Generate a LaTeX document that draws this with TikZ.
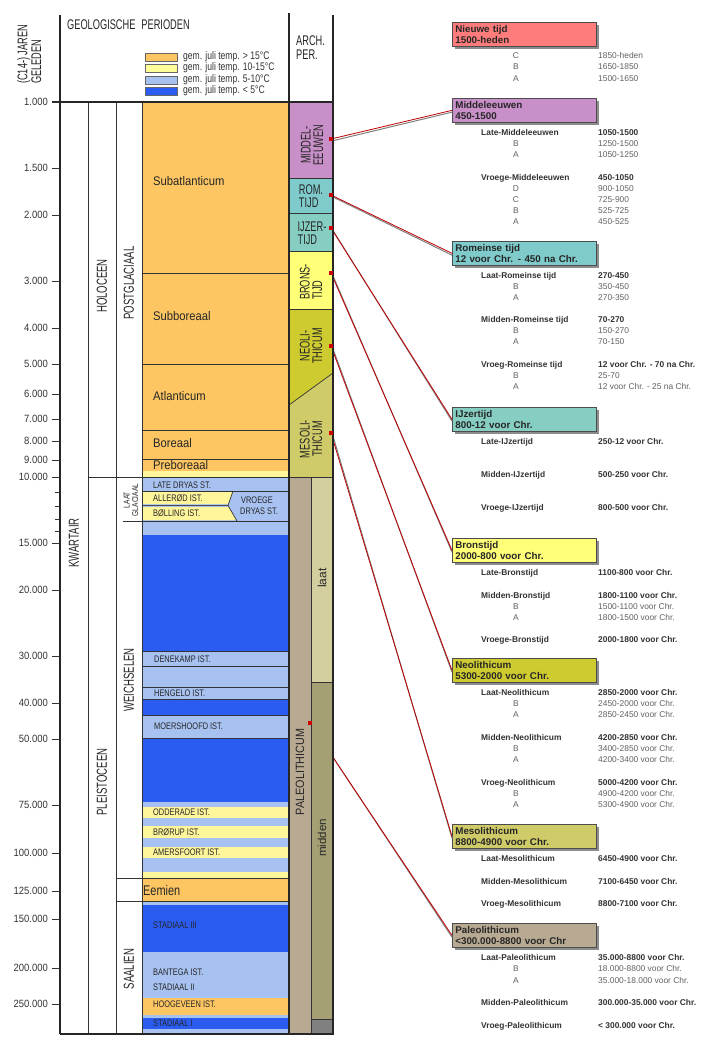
\documentclass[tikz,border=0pt]{standalone}
\usepackage{fontspec}
\setmainfont{Liberation Sans}
\newfontfamily\cnarrow[FakeStretch=0.66]{Liberation Sans}
\newfontfamily\cmid[FakeStretch=0.78]{Liberation Sans}
\newfontfamily\csub[FakeStretch=0.9]{Liberation Sans}
\usetikzlibrary{shadows}
\definecolor{orng}{HTML}{FDC663}
\definecolor{ylw}{HTML}{FFF59B}
\definecolor{lblue}{HTML}{A7C2F0}
\definecolor{dblue}{HTML}{2B5CF2}
\definecolor{mpurp}{HTML}{C88FC8}
\definecolor{teala}{HTML}{7FCACA}
\definecolor{tealb}{HTML}{86CEC2}
\definecolor{brons}{HTML}{FFFF78}
\definecolor{neo}{HTML}{CDCB30}
\definecolor{meso}{HTML}{CFCB68}
\definecolor{paleo}{HTML}{B8AA92}
\definecolor{laatc}{HTML}{D3CF9F}
\definecolor{middenc}{HTML}{A4A074}
\definecolor{nieuw}{HTML}{FF7C7C}
\definecolor{legyl}{HTML}{FFFF99}
\begin{document}
\begin{tikzpicture}[x=1pt,y=-1pt,
 fr/.style={draw=black!85,line width=1.3pt},
 sep/.style={draw=black!80,line width=0.7pt},
 ticklab/.style={anchor=east,inner sep=0pt,font=\csub\fontsize{10.5}{12}\selectfont,text=black!80},
 vlab/.style={rotate=90,inner sep=0pt,font=\cnarrow\fontsize{14.5}{14}\selectfont,text=black!85},
 perlab/.style={anchor=west,inner sep=0pt,text height=9pt,text depth=2pt,font=\csub\fontsize{12.5}{14}\selectfont,text=black!85},
 stlab/.style={anchor=west,inner sep=0pt,text height=7pt,text depth=0pt,font=\cmid\fontsize{9.5}{11}\selectfont,text=black!85},
 archlab/.style={inner sep=0pt,font=\cnarrow\fontsize{14}{12.5}\selectfont,text=black!85},
 legtxt/.style={anchor=west,inner sep=0pt,font=\cmid\fontsize{11}{12}\selectfont,text=black!80},
 legbox/.style={draw=black!60,line width=0.6pt},
 abox/.style={draw=black!70,line width=0.7pt,anchor=north west,minimum width=144pt,minimum height=24pt,text width=138pt,inner xsep=3pt,inner ysep=1pt,align=left,font=\fontsize{9.8}{11.5}\selectfont\bfseries,text=black!85,drop shadow={shadow xshift=2.5pt,shadow yshift=-2.5pt,fill=black!45,opacity=1}},
 rn/.style={anchor=west,inner sep=0pt,text height=6pt,text depth=1.7pt,font=\fontsize{8.4}{10}\selectfont\bfseries,text=black!80},
 rs/.style={anchor=west,inner sep=0pt,text height=6pt,text depth=1.7pt,font=\fontsize{8.4}{10}\selectfont,text=black!62},
 rl/.style={inner sep=0pt,text height=6pt,text depth=1.7pt,font=\fontsize{8.4}{10}\selectfont,text=black!62},
 conn/.style={draw=red!75!black,line width=0.8pt},
 connsh/.style={draw=black!50,line width=1pt},
 rdot/.style={fill=red!80!black,inner sep=0pt,minimum size=3.2pt}
]
\useasboundingbox[fill=white] (0,0) rectangle (710,1050);

% ---------- colour column ----------
\fill[orng] (142,102) rectangle (288,471);
\fill[ylw] (142,471) rectangle (288,477);
\fill[lblue] (142,477) rectangle (288,535);
\fill[ylw] (142,492) -- (233,492) -- (228,504) -- (142,504) -- cycle;
\fill[ylw] (142,507) -- (229,507) -- (236,520) -- (142,520) -- cycle;
\fill[dblue] (142,535) rectangle (288,651);
\fill[lblue] (142,651) rectangle (288,699);
\fill[dblue] (142,699) rectangle (288,715);
\fill[lblue] (142,715) rectangle (288,738);
\fill[dblue] (142,738) rectangle (288,802);
\fill[lblue] (142,802) rectangle (288,878);
\fill[ylw] (142,807) rectangle (288,818);
\fill[ylw] (142,826) rectangle (288,838);
\fill[ylw] (142,847) rectangle (288,858);
\fill[ylw] (142,872) rectangle (288,878);
\fill[orng] (142,878) rectangle (288,901);
\fill[lblue] (142,901) rectangle (288,905);
\fill[dblue] (142,905) rectangle (288,952);
\fill[lblue] (142,952) rectangle (288,998);
\fill[orng] (142,998) rectangle (288,1015);
\fill[lblue] (142,1015) rectangle (288,1018);
\fill[dblue] (142,1018) rectangle (288,1029);
\fill[lblue] (142,1029) rectangle (288,1034);
\foreach \yy in {273,364,430,459,491,521,651,666,687,699,715,738}
  \draw[sep] (142,\yy) -- (289,\yy);
\draw[sep] (233,491) -- (228,505.5) -- (237,521);
\draw[draw=black!70,line width=1.4pt] (142,505.5) -- (228,505.5);

% ---------- right-hand boxes ----------
\node[abox,fill=nieuw] (bNieuw) at (452,22) {Nieuwe tijd\\1500-heden};
\node[abox,fill=mpurp] (bMid) at (452,98) {Middeleeuwen\\450-1500};
\node[abox,fill=teala] (bRom) at (452,241) {Romeinse tijd\\12 voor Chr. - 450 na Chr.};
\node[abox,fill=tealb] (bIJz) at (452,407) {IJzertijd\\800-12 voor Chr.};
\node[abox,fill=brons] (bBro) at (452,538) {Bronstijd\\2000-800 voor Chr.};
\node[abox,fill=neo] (bNeo) at (452,658) {Neolithicum\\5300-2000 voor Chr.};
\node[abox,fill=meso] (bMes) at (452,824) {Mesolithicum\\8800-4900 voor Chr.};
\node[abox,fill=paleo] (bPal) at (452,923) {Paleolithicum\\<300.000-8800 voor Chr};

% ---------- connectors ----------
\coordinate (dMid) at (331,139);
\coordinate (dRom) at (331,195);
\coordinate (dIJz) at (331,228);
\coordinate (dBro) at (331,273);
\coordinate (dNeo) at (331,346);
\coordinate (dMes) at (331,433);
\coordinate (dPal) at (310,723);
\foreach \a/\b in {dMid/bMid,dRom/bRom,dIJz/bIJz,dBro/bBro,dNeo/bNeo,dMes/bMes,dPal/bPal}{
  \draw[connsh] ([shift={(1.6,1.8)}]\a) -- ([shift={(0,1.8)}]\b.west);
  \draw[conn] (\a) -- (\b.west);
}

% ---------- archaeological column ----------
\fill[mpurp] (289,102) rectangle (333,178);
\fill[teala] (289,178) rectangle (333,213);
\fill[tealb] (289,213) rectangle (333,251);
\fill[brons] (289,251) rectangle (333,309);
\fill[neo] (289,309) -- (333,309) -- (333,373) -- (289,405) -- cycle;
\fill[meso] (289,405) -- (333,373) -- (333,477) -- (289,477) -- cycle;
\fill[paleo] (289,477) rectangle (311,1034);
\fill[laatc] (311,477) rectangle (333,682);
\fill[middenc] (311,682) rectangle (333,1019);
\fill[black!50] (311,1019) rectangle (333,1033);
\foreach \yy in {178,213,251,309,477}
  \draw[sep] (289,\yy) -- (333,\yy);
\draw[sep] (289,405) -- (333,373);
\draw[sep] (311,477) -- (311,1034);
\draw[sep] (311,682) -- (333,682);
\draw[sep] (311,1019) -- (333,1019);

% ---------- frame ----------
\draw[sep] (88,102) -- (88,1034);
\draw[sep] (116,102) -- (116,1034);
\draw[sep] (142,102) -- (142,1034);
\draw[sep] (88,477) -- (289,477);
\draw[sep] (116,878) -- (289,878);
\draw[sep] (116,901) -- (289,901);
\draw[sep] (123,521) -- (142,521);
\draw[fr] (60,15) -- (60,1034);
\draw[fr] (289,13) -- (289,1034);
\draw[fr] (333,15) -- (333,1034);
\draw[fr] (52,102) -- (333,102);
\draw[draw=black!85,line width=1.6pt] (60,1034) -- (334,1034);

% ---------- axis ----------
\foreach \yy/\lab [count=\i] in {102/1.000,168/1.500,215/2.000,281/3.000,328/4.000,364/5.000,394/6.000,419/7.000,441/8.000,460/9.000,477/10.000,543/15.000,590/20.000,656/30.000,703/40.000,739/50.000,805/75.000,853/100.000,891/125.000,919/150.000,968/200.000,1004/250.000}{
  \draw[sep] (52,\yy) -- (60,\yy);
  \node[ticklab] (tk\i) at (48,\yy) {\lab};
}
\foreach \yy in {492.5,506.7,519.7,531.8}
  \draw[sep] (55,\yy) -- (60,\yy);

% ---------- header ----------
\node[rotate=90,anchor=north west,align=left,inner sep=0pt,font=\cnarrow\fontsize{14}{12.5}\selectfont,text=black!85] (hC14) at (17,84) {(C14-) JAREN\\GELEDEN};
\node[anchor=west,inner sep=0pt,font=\cnarrow\fontsize{14}{14}\selectfont,text=black!85] (hGeo) at (67,25) {GEOLOGISCHE\hspace{6pt}PERIODEN};
\node[anchor=north west,align=left,inner sep=0pt,font=\cnarrow\fontsize{14}{14}\selectfont,text=black!85] (hArch) at (296,36) {ARCH.\\PER.};
\draw[legbox,fill=orng] (145,53) rectangle (177,61);
\draw[legbox,fill=legyl] (145,64) rectangle (177,72);
\draw[legbox,fill=lblue] (145,76) rectangle (177,84);
\draw[legbox,fill=dblue] (145,87) rectangle (177,95);
\node[legtxt] (lg1) at (183,57) {gem. juli temp. > 15°C};
\node[legtxt] (lg2) at (183,68) {gem. juli temp. 10-15°C};
\node[legtxt] (lg3) at (183,80) {gem. juli temp. 5-10°C};
\node[legtxt] (lg4) at (183,91) {gem. juli temp. < 5°C};

% ---------- stratigraphic labels ----------
\node[vlab] (kw) at (74,543) {KWARTAIR};
\node[vlab] (hol) at (102,286) {HOLOCEEN};
\node[vlab] (ple) at (102,782) {PLEISTOCEEN};
\node[vlab] (pg) at (129,283) {POSTGLACIAAL};
\node[vlab] (wei) at (129,680) {WEICHSELEN};
\node[vlab] (saa) at (129,969) {SAALIEN};
\node[rotate=90,align=center,inner sep=0pt,font=\cmid\fontsize{8.5}{8.5}\selectfont,text=black!85] (lgl) at (131,500) {LAAT\\GLACIAAL};

\node[perlab] (p1) at (153,182) {Subatlanticum};
\node[perlab] (p2) at (153,317) {Subboreaal};
\node[perlab] (p3) at (153,397) {Atlanticum};
\node[perlab] (p4) at (153,444) {Boreaal};
\node[perlab] (p5) at (153,466) {Preboreaal};
\node[anchor=west,inner sep=0pt,font=\cmid\fontsize{14}{14}\selectfont,text=black!85] (p6) at (143,890) {Eemien};

\node[stlab] (s1) at (153,485) {LATE DRYAS ST.};
\node[stlab] (s2) at (153,498) {ALLERØD IST.};
\node[stlab] (s3) at (153,513) {BØLLING IST.};
\node[anchor=west,align=left,inner sep=0pt,font=\cmid\fontsize{9.5}{11}\selectfont,text=black!85] (s4) at (240,506) {\hspace{1pt}VROEGE\\DRYAS ST.};
\node[stlab] (s5) at (154,659) {DENEKAMP IST.};
\node[stlab] (s6) at (154,693) {HENGELO IST.};
\node[stlab] (s7) at (154,726) {MOERSHOOFD IST.};
\node[stlab] (s8) at (153,812) {ODDERADE IST.};
\node[stlab] (s9) at (153,832) {BRØRUP IST.};
\node[stlab] (s10) at (153,852) {AMERSFOORT IST.};
\node[stlab] (s11) at (153,925) {STADIAAL III};
\node[stlab] (s12) at (153,972) {BANTEGA IST.};
\node[stlab] (s13) at (153,987) {STADIAAL II};
\node[stlab] (s14) at (153,1004) {HOOGEVEEN IST.};
\node[stlab] (s15) at (153,1023) {STADIAAL I};

% ---------- archaeological labels ----------
\node[archlab,rotate=90,align=center] (a1) at (312,145) {MIDDEL-\\EEUWEN};
\node[archlab,align=left] (a2) at (311,196) {ROM.\\TIJD};
\node[archlab,align=left] (a3) at (312,233) {IJZER-\\TIJD};
\node[archlab,rotate=90,align=left] (a4) at (311,282) {BRONS-\\TIJD};
\node[archlab,rotate=90,align=center] (a5) at (311,346) {NEOLI-\\THICUM};
\node[archlab,rotate=90,align=center] (a6) at (311,439) {MESOLI-\\THICUM};
\node[rotate=90,inner sep=0pt,font=\csub\fontsize{12}{12}\selectfont,text=black!85] (a7) at (300,772) {PALEOLITHICUM};
\node[rotate=90,inner sep=0pt,font=\fontsize{12}{12}\selectfont,text=black!85] (a8) at (322,578) {laat};
\node[rotate=90,inner sep=0pt,font=\fontsize{11.5}{12}\selectfont,text=black!85] (a9) at (322,838) {midden};

% ---------- dots ----------
\foreach \d in {dMid,dRom,dIJz,dBro,dNeo,dMes,dPal}
  \node[rdot] (p\d) at (\d) {};

% ---------- right-hand text ----------
\foreach \yy/\nm/\dt [count=\i] in {
 133/Late-Middeleeuwen/1050-1500,
 178/Vroege-Middeleeuwen/450-1050,
 276/Laat-Romeinse tijd/270-450,
 320/Midden-Romeinse tijd/70-270,
 365/Vroeg-Romeinse tijd/12 voor Chr. - 70 na Chr.,
 442/Late-IJzertijd/250-12 voor Chr.,
 475/Midden-IJzertijd/500-250 voor Chr.,
 508/Vroege-IJzertijd/800-500 voor Chr.,
 573/Late-Bronstijd/1100-800 voor Chr.,
 596/Midden-Bronstijd/1800-1100 voor Chr.,
 640/Vroege-Bronstijd/2000-1800 voor Chr.,
 693/Laat-Neolithicum/2850-2000 voor Chr.,
 738/Midden-Neolithicum/4200-2850 voor Chr.,
 783/Vroeg-Neolithicum/5000-4200 voor Chr.,
 859/Laat-Mesolithicum/6450-4900 voor Chr.,
 882/Midden-Mesolithicum/7100-6450 voor Chr.,
 904/Vroeg-Mesolithicum/8800-7100 voor Chr.,
 958/Laat-Paleolithicum/35.000-8800 voor Chr.,
 1003/Midden-Paleolithicum/300.000-35.000 voor Chr.,
 1026/Vroeg-Paleolithicum/< 300.000 voor Chr.}{
  \node[rn] (hn\i) at (481,\yy) {\nm};
  \node[rn] (hd\i) at (598,\yy) {\dt};
}
\foreach \yy/\lt/\dt [count=\i] in {
 56/C/1850-heden, 67/B/1650-1850, 79/A/1500-1650,
 144/B/1250-1500, 155/A/1050-1250,
 189/D/900-1050, 200/C/725-900, 211/B/525-725, 222/A/450-525,
 287/B/350-450, 298/A/270-350,
 331/B/150-270, 342/A/70-150,
 376/B/25-70, 387/A/12 voor Chr. - 25 na Chr.,
 607/B/1500-1100 voor Chr., 618/A/1800-1500 voor Chr.,
 704/B/2450-2000 voor Chr., 715/A/2850-2450 voor Chr.,
 749/B/3400-2850 voor Chr., 760/A/4200-3400 voor Chr.,
 794/B/4900-4200 voor Chr., 805/A/5300-4900 voor Chr.,
 969/B/18.000-8800 voor Chr., 981/A/35.000-18.000 voor Chr.}{
  \node[rl] (sl\i) at (516,\yy) {\lt};
  \node[rs] (sd\i) at (598,\yy) {\dt};
}
\end{tikzpicture}
\end{document}
